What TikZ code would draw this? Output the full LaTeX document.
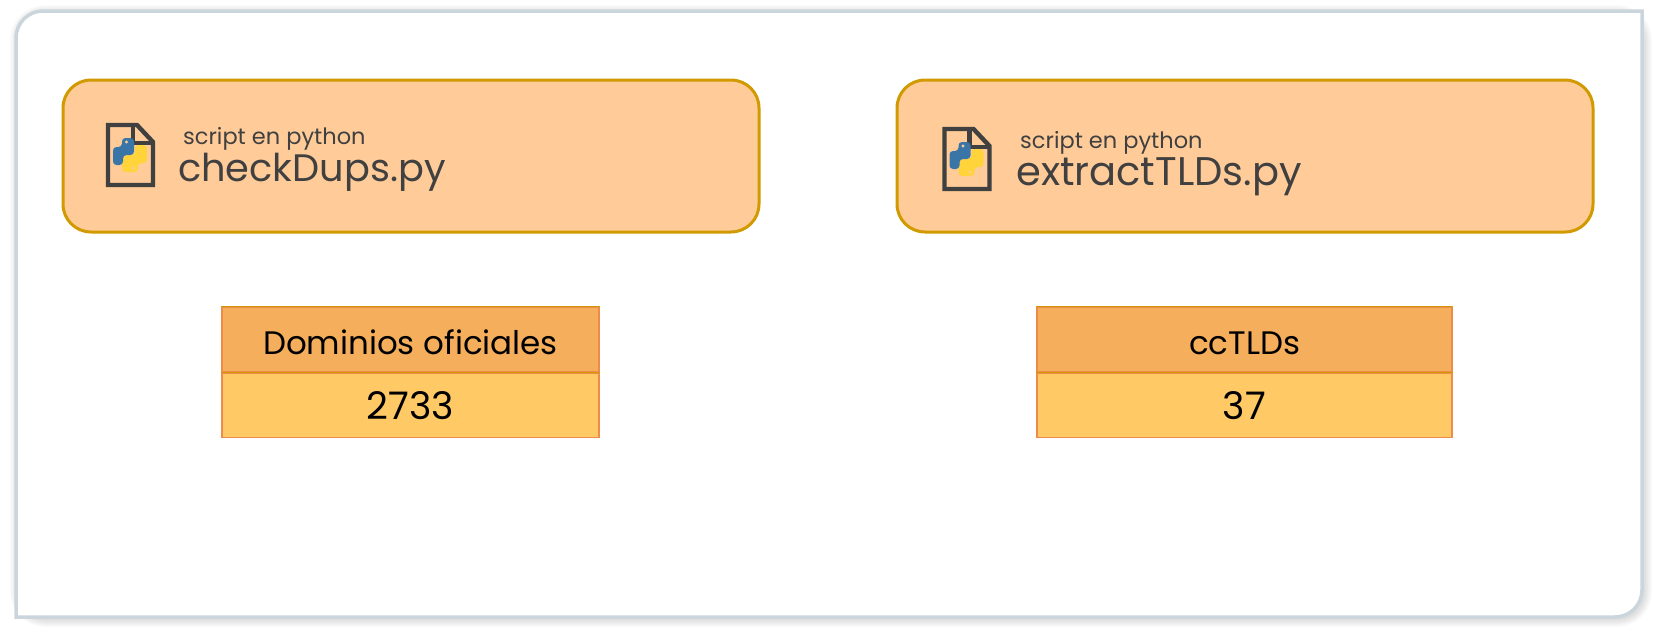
\documentclass[tikz,border=0pt]{standalone}
\usepackage{fontspec}
\setmainfont{Poppins}
\usetikzlibrary{positioning}

\definecolor{panelline}{HTML}{CBD5DC}
\definecolor{scriptfill}{HTML}{FFCC99}
\definecolor{scriptline}{HTML}{D09A00}
\definecolor{inktext}{HTML}{404040}
\definecolor{headfill}{HTML}{F4AE5C}
\definecolor{bodyfill}{HTML}{FFC966}
\definecolor{cellline}{HTML}{EE8A4A}
\definecolor{pyblue}{HTML}{3A75A8}
\definecolor{pyyellow}{HTML}{FFD43B}

\tikzset{
  scriptbox/.style={draw=scriptline, line width=3pt, fill=scriptfill, rounded corners=28pt,
                    minimum width=696pt, minimum height=152pt, anchor=north west},
  subtitle/.style={anchor=base west, inner sep=0pt, text=inktext, font=\fontsize{22.5}{26}\selectfont},
  title/.style={anchor=base west, inner sep=0pt, text=inktext, font=\fontsize{#1}{48}\selectfont},
  cell/.style={draw=cellline, line width=1.2pt, minimum height=64.5pt, inner sep=0pt,
               text height=29pt, text depth=0pt, text=black, fill=#1},
  headtext/.style={font=\fontsize{32.5}{38}\selectfont},
  valtext/.style={font=\fontsize{38}{44}\selectfont},
  pics/pyfile/.style={code={
    % sheet
    \draw[inktext, line width=4.4pt, line join=miter]
      (-22,-30) -- (7,-30) -- (23,-13) -- (23,30) -- (-22,30) -- cycle;
    \draw[inktext, line width=4.4pt] (3,-30) -- (3,-12) -- (23,-12);
    % snakes
    \fill[pyyellow, rounded corners=3.5pt]
      (8,17) -- (-8,17) -- (-8,8) -- (-6,0) -- (5,0) -- (5,-10) -- (17,-10) -- (17,8) -- (8,8) -- cycle;
    \fill[pyblue, rounded corners=3.5pt]
      (-8,-17) -- (4,-17) -- (4,0) -- (-7,0) -- (-7,10) -- (-17,10) -- (-17,-8) -- (-8,-8) -- cycle;
    \fill[scriptfill] (-3.5,-13) circle (1.6pt);
    \fill[scriptfill] (3.5,13) circle (1.6pt);
  }}
}

\begin{document}
\begin{tikzpicture}[x=1pt, y=-1pt]

  \useasboundingbox[fill=white] (0,0) rectangle (1659,640);

  % Panel shadow
  \foreach \spread in {2,4,...,16} {
    \draw[black, opacity=0.016, line width=\spread pt, line join=round]
      (18,42) [rounded corners=27pt] -- (18,13) -- (1644,13) [sharp corners] -- (1644,592)
      [rounded corners=27pt] -- (1644,619) -- (18,619) [sharp corners] -- cycle;
  }

  % Panel
  \draw[panelline, line width=3.5pt, fill=white]
    (16,40) [rounded corners=27pt] -- (16,11) [sharp corners] -- (1642,11) -- (1642,590)
    [rounded corners=27pt] -- (1642,617) [sharp corners] -- (16,617) -- cycle;

  % Scripts
  \node[scriptbox] (check_box) at (61.5,78.5) {};
  \node[scriptbox] (extract_box) at (895.5,78.5) {};

  \pic at (130,155) {pyfile};
  \pic at (966.5,159) {pyfile};

  \node[subtitle] (check_sub) at (183,144) {script en python};
  \node[title=38.3] (check_name) at (178,181) {checkDups.py};
  \node[subtitle] (extract_sub) at (1020,148) {script en python};
  \node[title=40] (extract_name) at (1016,185) {extractTLDs.py};

  % Tables
  \node[cell=headfill, headtext, minimum width=377pt] (dom_head) at (410.5,339.5) {Dominios oficiales};
  \node[cell=bodyfill, valtext, minimum width=377pt, below=0pt of dom_head] (dom_val) {2733};
  \node[cell=headfill, headtext, minimum width=415pt] (cc_head) at (1244.5,339.5) {ccTLDs};
  \node[cell=bodyfill, valtext, minimum width=415pt, below=0pt of cc_head] (cc_val) {37};

  % Top rules of the headers
  \draw[scriptline, line width=1.2pt] (dom_head.north west) -- (dom_head.north east);
  \draw[scriptline, line width=1.2pt] (dom_val.north west) -- (dom_val.north east);
  \draw[scriptline, line width=1.2pt] (cc_head.north west) -- (cc_head.north east);
  \draw[scriptline, line width=1.2pt] (cc_val.north west) -- (cc_val.north east);

\end{tikzpicture}
\end{document}
